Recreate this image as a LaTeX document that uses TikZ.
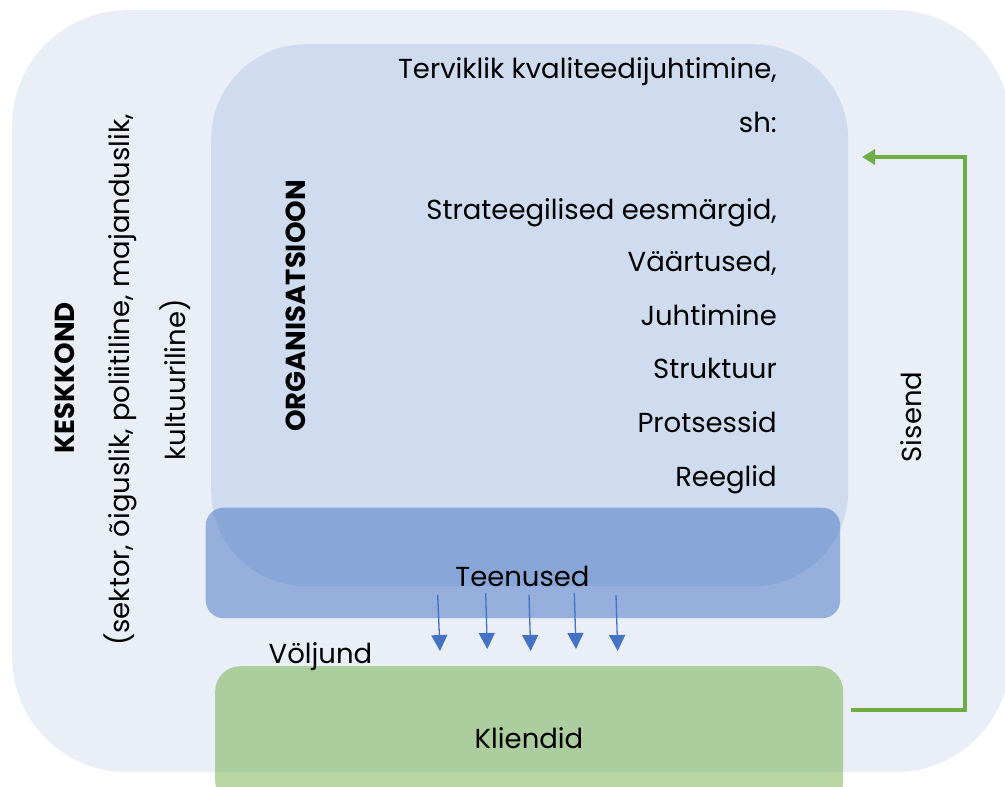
\documentclass[tikz,border=0pt]{standalone}
\usepackage{fontspec}
\setmainfont{Poppins}
\usetikzlibrary{arrows.meta}
\definecolor{envbg}{HTML}{E9EEF7}
\definecolor{orgbg}{HTML}{CFDCEF}
\definecolor{oblue}{HTML}{4472C4}
\definecolor{ogreen}{HTML}{70AD47}
\begin{document}
\begin{tikzpicture}[x=1pt,y=-1pt,
  box/.style={inner sep=0pt, draw=none, anchor=north west},
  lbl/.style={inner sep=0pt, font=\fontsize{27.5}{32}\selectfont},
  blbl/.style={inner sep=0pt, font=\fontsize{27.5}{32}\selectfont\bfseries},
  outarrow/.style={draw=oblue, line width=1.3pt, -{Triangle[width=16pt,length=16pt]}},
  inarrow/.style={draw=ogreen, line width=3.5pt, -{Triangle[width=15pt,length=13pt]}}]
\useasboundingbox (0,0) rectangle (1005,787);
\node[box, fill=envbg, minimum width=998pt, minimum height=762pt, rounded corners=115pt] (env) at (12,10) {};
\node[box, fill=orgbg, minimum width=637pt, minimum height=542pt, rounded corners=95pt] (org) at (211,44) {};
\node[box, fill=oblue, fill opacity=0.5, minimum width=634.5pt, minimum height=110.5pt, rounded corners=18pt] (teen) at (205.5,507.5) {};
\node[box, fill=ogreen, fill opacity=0.5, minimum width=628pt, minimum height=140pt, rounded corners=25pt] (klient) at (215,666) {};
% texts
\node[lbl, anchor=base east] (t1) at (777,78) {Terviklik kvaliteedijuhtimine,};
\node[lbl, anchor=base east] (t2) at (777,132) {sh:};
\node[lbl, anchor=base east] (t3) at (777,219) {Strateegilised eesmärgid,};
\node[lbl, anchor=base east] (t4) at (777,271) {Väärtused,};
\node[lbl, anchor=base east] (t5) at (777,325) {Juhtimine};
\node[lbl, anchor=base east] (t6) at (777,378) {Struktuur};
\node[lbl, anchor=base east] (t7) at (777,432) {Protsessid};
\node[lbl, anchor=base east] (t8) at (777,486) {Reeglid};
\node[blbl, rotate=90] (orgl) at (296,306) {ORGANISATSIOON};
\node[blbl, rotate=90] (kesk) at (65,378) {KESKKOND};
\node[lbl, rotate=90] (kesk2) at (120,380) {(sektor, õiguslik, poliitiline, majanduslik,};
\node[lbl, rotate=90] (kesk3) at (175,380) {kultuuriline)};
\node[lbl, rotate=90] (sis) at (911,417) {Sisend};
\node[lbl, anchor=base] (teenl) at (522.5,586) {Teenused};
\node[lbl, anchor=base] (valj) at (320.5,663) {Völjund};
\node[lbl, anchor=base] (klientl) at (529,748) {Kliendid};
% output arrows
\coordinate (a1s) at (437.7,595); \coordinate (a1e) at (440,651);
\coordinate (a2s) at (485.7,593); \coordinate (a2e) at (487.3,649);
\coordinate (a3s) at (529,595);   \coordinate (a3e) at (530.7,651);
\coordinate (a4s) at (574.3,593); \coordinate (a4e) at (576,649);
\coordinate (a5s) at (616,595);   \coordinate (a5e) at (617.7,651);
\foreach \i in {1,...,5} \draw[outarrow] (a\i s) -- (a\i e);
% input arrow
\coordinate (ins) at (851,710);
\coordinate (inc) at (965,710);
\coordinate (ine) at (862,157);
\draw[inarrow] (ins) -- (inc) |- (ine);
\end{tikzpicture}
\end{document}
